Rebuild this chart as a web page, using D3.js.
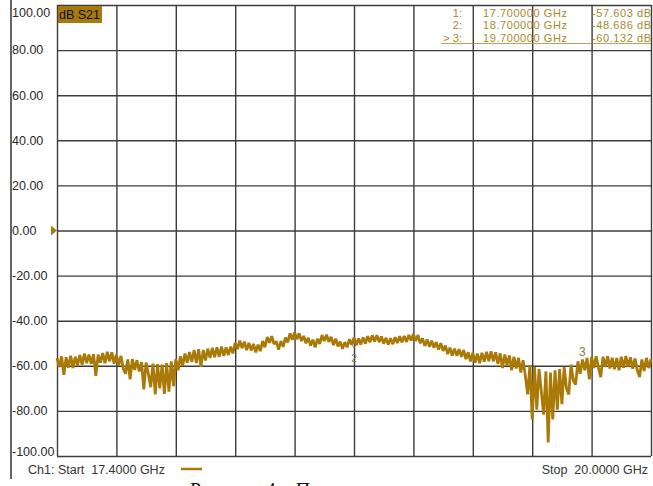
<!DOCTYPE html>
<html><head><meta charset="utf-8">
<script src="https://cdn.jsdelivr.net/npm/d3@7"></script>
<style>
html,body{margin:0;padding:0;background:#fff;overflow:hidden;}
svg{display:block;}
</style></head>
<body><svg id="c" width="653" height="486"></svg>
<script>
// ---- data ----
const startGHz = 17.4, stopGHz = 20.0, stepGHz = 0.01;
const yTickValues = [100, 80, 60, 40, 20, 0, -20, -40, -60, -80, -100];
const yTickLabels = ["100.00","80.00","60.00","40.00","20.00","0.00","-20.00","-40.00","-60.00","-80.00","-100.00"];
const xGridGHz = [17.4, 17.66, 17.92, 18.18, 18.44, 18.7, 18.96, 19.22, 19.48, 19.74, 20.0];
const markerNames = ["1:", "2:", "> 3:"];
const markerFreqs = ["17.700000 GHz", "18.700000 GHz", "19.700000 GHz"];
const markerVals = ["-57.603 dB", "-48.686 dB", "-60.132 dB"];
const markerGHz = [17.7, 18.7, 19.7];
const markerDb = [-57.603, -48.686, -60.132];
const s21 = [
-56.5,-60.5,-55.8,-64.0,-56.2,-60.8,-55.5,-61.0,-56.0,-59.8,
-55.2,-59.5,-54.6,-58.8,-55.0,-59.2,-54.8,-64.5,-55.1,-58.6,
-54.3,-58.9,-53.8,-58.0,-54.0,-59.1,-55.0,-59.8,-55.6,-61.2,
-63.5,-57.2,-66.0,-57.0,-61.8,-57.5,-62.5,-58.4,-70.5,-58.6,
-63.5,-69.5,-59.0,-72.7,-59.3,-70.0,-59.5,-72.5,-58.8,-71.5,
-58.0,-69.0,-57.0,-62.0,-55.8,-60.0,-54.6,-58.6,-53.9,-58.3,
-53.0,-58.8,-52.6,-60.5,-53.0,-57.6,-52.4,-56.5,-52.0,-56.2,
-51.8,-56.0,-51.5,-55.6,-51.8,-55.2,-51.5,-54.5,-49.8,-52.6,
-48.8,-52.2,-49.3,-53.0,-49.8,-53.2,-50.3,-54.0,-50.6,-53.5,
-49.0,-51.8,-47.2,-49.8,-46.9,-50.4,-49.2,-52.8,-49.0,-51.6,
-47.5,-49.6,-45.6,-48.5,-45.2,-48.2,-45.6,-49.0,-46.8,-50.0,
-47.6,-51.0,-48.4,-51.8,-48.0,-50.3,-46.4,-49.0,-46.2,-49.4,
-47.2,-50.8,-48.0,-51.4,-49.3,-52.5,-49.5,-51.8,-48.2,-50.6,
-47.5,-50.8,-47.9,-50.5,-47.4,-50.2,-46.9,-49.6,-46.5,-49.2,
-46.4,-49.5,-47.0,-50.2,-47.6,-50.6,-47.8,-50.4,-47.3,-49.9,
-46.9,-49.6,-46.8,-49.4,-46.3,-48.8,-45.9,-49.0,-46.4,-50.0,
-47.8,-51.2,-48.3,-51.5,-48.9,-52.0,-49.5,-52.8,-50.0,-53.4,
-51.0,-54.8,-52.0,-55.5,-52.4,-55.6,-52.6,-56.0,-53.0,-57.0,
-54.0,-58.0,-54.3,-58.6,-54.6,-58.8,-54.2,-58.2,-53.8,-57.9,
-53.6,-58.0,-54.0,-59.2,-54.5,-61.0,-55.0,-59.8,-55.4,-62.0,
-56.0,-61.2,-56.5,-63.0,-57.5,-64.5,-72.7,-59.8,-83.8,-60.5,
-79.5,-61.5,-71.5,-81.6,-62.5,-94.0,-63.0,-83.8,-62.0,-79.5,
-61.5,-77.0,-60.5,-70.0,-72.7,-59.5,-66.5,-68.3,-58.0,-63.5,
-57.2,-62.0,-56.5,-66.0,-56.0,-61.0,-55.8,-60.8,-65.0,-56.0,
-60.5,-55.8,-61.2,-56.4,-61.5,-56.5,-62.0,-56.0,-60.8,-55.7,
-60.5,-56.2,-61.3,-56.8,-62.0,-65.0,-57.2,-62.3,-56.5,-61.0,-57.0
];

// ---- layout ----
const L = 57, R = 651, T = 5, B = 456;
const gold = "#a97a08", gridC = "#3c3c3c", txtGold = "#a58a2a";
const FONT = "Liberation Sans, Arial, sans-serif";
const svg = d3.select("#c");
const x = d3.scaleLinear().domain([startGHz, stopGHz]).range([L, R]);
const y = d3.scaleLinear().domain([-100, 100]).range([B, T]);

// left axis rule
svg.append("line").attr("x1", 11).attr("x2", 11).attr("y1", 0).attr("y2", 479)
  .attr("stroke", "#333").attr("stroke-width", 1.5);

// grid
const gy = svg.append("g").attr("transform", `translate(${L},0)`)
  .call(d3.axisLeft(y).tickValues(yTickValues).tickSize(-(R - L)).tickFormat(""));
const gx = svg.append("g").attr("transform", `translate(0,${T})`)
  .call(d3.axisBottom(x).tickValues(xGridGHz).tickSize(B - T).tickFormat(""));
[gy, gx].forEach(g => {
  g.select(".domain").remove();
  g.selectAll("line").attr("stroke", gridC).attr("stroke-width", 1.4);
});

// y labels
svg.append("g").selectAll("text").data(yTickValues).join("text")
  .attr("x", 12)
  .attr("y", (d) => y(d) + (d === 100 ? 8 : d === -100 ? -4 : 0))
  .attr("dy", "0.35em")
  .attr("font-family", FONT)
  .attr("font-size", 12.5).attr("fill", "#2a2a2a")
  .text((d, i) => yTickLabels[i]);

// reference triangle at 0 dB
svg.append("path")
  .attr("d", `M${L - 6},${y(0) - 5} L${L},${y(0)} L${L - 6},${y(0) + 5} Z`)
  .attr("fill", gold);

// trace
const line = d3.line().x((d, i) => x(startGHz + i * stepGHz)).y(d => y(d));
svg.append("path").datum(s21).attr("d", line)
  .attr("fill", "none").attr("stroke", gold).attr("stroke-width", 2.8)
  .attr("stroke-linejoin", "miter").attr("stroke-miterlimit", 2);

// trace markers
svg.append("path")
  .attr("d", `M${x(markerGHz[1]) - 3},${y(markerDb[1]) + 3} L${x(markerGHz[1]) + 3},${y(markerDb[1]) + 3} L${x(markerGHz[1])},${y(markerDb[1]) + 8} Z`)
  .attr("fill", "none").attr("stroke", "#8a7a4a").attr("stroke-width", 0.8);
svg.append("text").attr("x", x(markerGHz[1])).attr("y", y(markerDb[1]) + 22)
  .attr("text-anchor", "middle").attr("font-family", FONT)
  .attr("font-size", 10).attr("fill", "#8a7a4a").text("2");
svg.append("text").attr("x", x(markerGHz[2])).attr("y", y(markerDb[2]) - 10)
  .attr("text-anchor", "middle").attr("font-family", FONT)
  .attr("font-size", 12).attr("fill", "#8a7a4a").text("3");

// dB S21 label
svg.append("rect").attr("x", 58).attr("y", 6).attr("width", 44).attr("height", 17).attr("fill", "#a67a0c");
svg.append("text").attr("x", 59).attr("y", 19)
  .attr("font-family", FONT).attr("font-size", 12.5)
  .attr("fill", "#111").text("dB S21");

// marker readout
const mg = svg.append("g").attr("font-family", FONT)
  .attr("font-size", 11).attr("fill", txtGold);
markerNames.forEach((n, i) => {
  const by = 16.5 + i * 12.5;
  mg.append("text").attr("x", 462).attr("y", by).attr("text-anchor", "end").text(n);
  mg.append("text").attr("x", 483).attr("y", by).attr("textLength", 84).text(markerFreqs[i]);
  mg.append("text").attr("x", 592).attr("y", by).attr("textLength", 59).text(markerVals[i]);
});
svg.append("line").attr("x1", 441).attr("x2", 651).attr("y1", 43.5).attr("y2", 43.5)
  .attr("stroke", txtGold).attr("stroke-width", 0.8);

// footer
const fg = svg.append("g").attr("font-family", FONT)
  .attr("font-size", 12.5).attr("fill", "#333");
fg.append("text").attr("x", 28).attr("y", 474).text("Ch1: Start\u00a0\u00a017.4000 GHz");
fg.append("text").attr("x", 648).attr("y", 474).attr("text-anchor", "end").text("Stop\u00a0\u00a020.0000 GHz");
svg.append("line").attr("x1", 181).attr("x2", 202).attr("y1", 469).attr("y2", 469)
  .attr("stroke", gold).attr("stroke-width", 2.5);

// cut-off caption below the screenshot
svg.append("text").attr("x", 190).attr("y", 497)
  .attr("font-family", "Liberation Serif, serif").attr("font-size", 20).attr("fill", "#111")
  .text("Рисунок 4 – Передаточная характеристика");
</script></body></html>
